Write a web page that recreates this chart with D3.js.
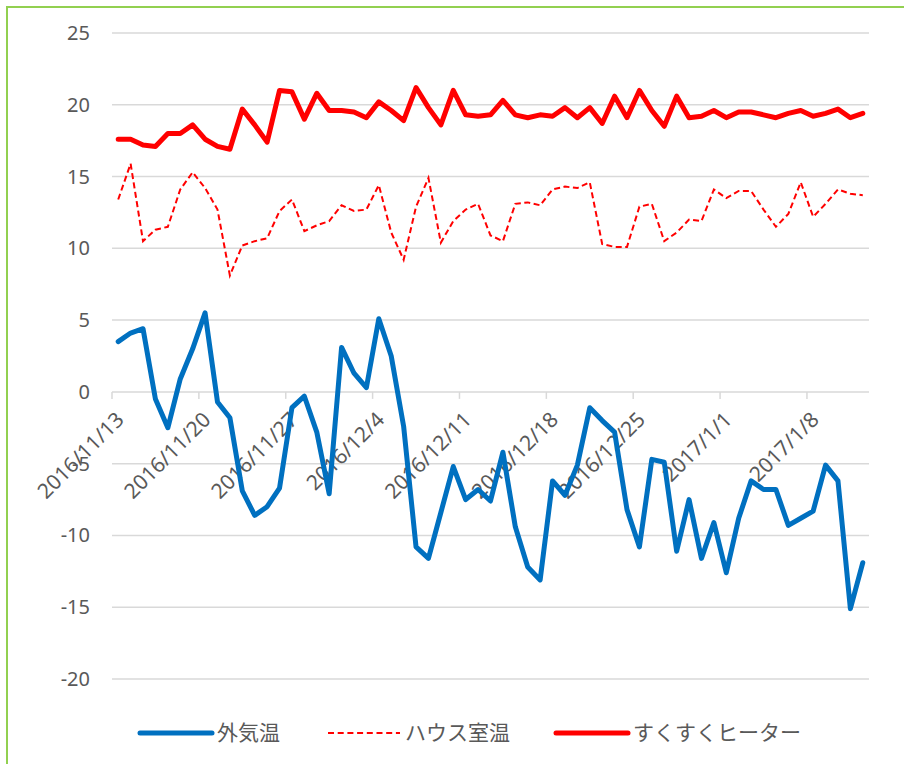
<!DOCTYPE html>
<html>
<head>
<meta charset="utf-8">
<script src="https://cdn.jsdelivr.net/npm/d3@7"></script>
<style>
  body { margin: 0; background: #fff; }
  svg text { font-family: "Noto Sans", "Noto Sans CJK JP", sans-serif; fill: #595959; }
</style>
</head>
<body>
<svg width="904" height="764"></svg>
<script>
// 日付 (2016/11/13 - 2017/1/12)
var startDate = new Date(2016, 10, 13);
var endDate = new Date(2017, 0, 13);
var dates = d3.timeDay.range(startDate, endDate);

var seriesNames = ["外気温", "ハウス室温", "すくすくヒーター"];

var outside = [3.5, 4.1, 4.4, -0.5, -2.5, 0.9, 3.0, 5.5, -0.7, -1.8,
  -6.9, -8.6, -8.0, -6.7, -1.1, -0.3, -2.8, -7.1, 3.1, 1.3,
  0.3, 5.1, 2.5, -2.4, -10.8, -11.6, -8.4, -5.2, -7.5, -6.8,
  -7.6, -4.2, -9.4, -12.2, -13.1, -6.2, -7.2, -5.1, -1.1, -2.0,
  -2.8, -8.2, -10.8, -4.7, -4.9, -11.1, -7.5, -11.6, -9.1, -12.6,
  -8.8, -6.2, -6.8, -6.8, -9.3, -8.8, -8.3, -5.1, -6.2, -15.1, -11.9];

var house = [13.4, 15.9, 10.5, 11.3, 11.5, 14.1, 15.3, 14.2, 12.7, 8.1,
  10.2, 10.5, 10.7, 12.6, 13.4, 11.2, 11.6, 11.9, 13.0, 12.6,
  12.7, 14.4, 11.1, 9.2, 12.9, 14.9, 10.4, 11.9, 12.7, 13.1,
  10.9, 10.5, 13.1, 13.2, 13.0, 14.1, 14.3, 14.2, 14.6, 10.3,
  10.1, 10.1, 12.9, 13.1, 10.5, 11.1, 12.0, 11.9, 14.1, 13.5,
  14.0, 14.0, 12.7, 11.5, 12.4, 14.6, 12.2, 13.1, 14.1, 13.8, 13.7];

var heater = [17.6, 17.6, 17.2, 17.1, 18.0, 18.0, 18.6, 17.6, 17.1, 16.9,
  19.7, 18.6, 17.4, 21.0, 20.9, 19.0, 20.8, 19.6, 19.6, 19.5,
  19.1, 20.2, 19.6, 18.9, 21.2, 19.8, 18.6, 21.0, 19.3, 19.2,
  19.3, 20.3, 19.3, 19.1, 19.3, 19.2, 19.8, 19.1, 19.8, 18.7,
  20.6, 19.1, 21.0, 19.6, 18.5, 20.6, 19.1, 19.2, 19.6, 19.1,
  19.5, 19.5, 19.3, 19.1, 19.4, 19.6, 19.2, 19.4, 19.7, 19.1, 19.4];

var yTicks = [-20, -15, -10, -5, 0, 5, 10, 15, 20, 25];

var svg = d3.select("svg");

// 枠線 (緑)
svg.append("rect")
  .attr("x", 7).attr("y", 7)
  .attr("width", 1000).attr("height", 1000)
  .attr("fill", "none")
  .attr("stroke", "#92d050")
  .attr("stroke-width", 2);

var x = d3.scaleTime().domain([startDate, endDate]).range([112, 869]);
var y = d3.scaleLinear().domain([-20, 25]).range([679, 33]);

// 目盛線
svg.append("g")
  .selectAll("line")
  .data(yTicks)
  .enter().append("line")
  .attr("x1", 112).attr("x2", 869)
  .attr("y1", function(d) { return y(d); })
  .attr("y2", function(d) { return y(d); })
  .attr("stroke", "#d9d9d9")
  .attr("stroke-width", 1.5);

svg.append("g")
  .selectAll("text")
  .data(yTicks)
  .enter().append("text")
  .attr("x", 90)
  .attr("y", function(d) { return y(d); })
  .attr("dy", "0.35em")
  .attr("text-anchor", "end")
  .style("font-size", "20px")
  .text(function(d) { return d; });

// 横軸 (0 の位置)
var weeks = d3.timeWeek.range(startDate, endDate);
var fmt = d3.timeFormat("%Y/%-m/%-d");

svg.append("g")
  .selectAll("line")
  .data(weeks)
  .enter().append("line")
  .attr("x1", function(d) { return x(d); })
  .attr("x2", function(d) { return x(d); })
  .attr("y1", y(0)).attr("y2", y(0) + 7)
  .attr("stroke", "#d9d9d9")
  .attr("stroke-width", 1.5);

svg.append("g")
  .selectAll("text")
  .data(weeks)
  .enter().append("text")
  .attr("transform", function(d) {
    return "translate(" + (x(d) + 8) + "," + (y(0) + 24) + ") rotate(-45)";
  })
  .attr("dy", "0.35em")
  .attr("text-anchor", "end")
  .style("font-size", "21px")
  .text(function(d) { return fmt(d); });

// 折れ線
function midDay(d) { return x(d3.timeHour.offset(d, 12)); }

function makeLine(values) {
  return d3.line()
    .x(function(d, i) { return midDay(dates[i]); })
    .y(function(d) { return y(d); })(values);
}

svg.append("path")
  .attr("d", makeLine(outside))
  .attr("fill", "none")
  .attr("stroke", "#0070c0")
  .attr("stroke-width", 5)
  .attr("stroke-linejoin", "round")
  .attr("stroke-linecap", "round");

svg.append("path")
  .attr("d", makeLine(house))
  .attr("fill", "none")
  .attr("stroke", "#ff0000")
  .attr("stroke-width", 2)
  .attr("stroke-dasharray", "6,3.5");

svg.append("path")
  .attr("d", makeLine(heater))
  .attr("fill", "none")
  .attr("stroke", "#ff0000")
  .attr("stroke-width", 5)
  .attr("stroke-linejoin", "round")
  .attr("stroke-linecap", "round");

// 凡例
var legend = [
  { name: seriesNames[0], color: "#0070c0", width: 5, dash: null, x: 140 },
  { name: seriesNames[1], color: "#ff0000", width: 2, dash: "6,3.7", x: 328 },
  { name: seriesNames[2], color: "#ff0000", width: 5, dash: null, x: 556 }
];

var item = svg.append("g")
  .selectAll("g")
  .data(legend)
  .enter().append("g")
  .attr("transform", function(d) { return "translate(" + d.x + ",733)"; });

item.append("line")
  .attr("x1", 0).attr("x2", 72)
  .attr("stroke", function(d) { return d.color; })
  .attr("stroke-width", function(d) { return d.width; })
  .attr("stroke-dasharray", function(d) { return d.dash; })
  .attr("stroke-linecap", function(d) { return d.dash ? "butt" : "round"; });

item.append("text")
  .attr("x", 77)
  .attr("dy", "0.35em")
  .style("font-family", "'Noto Sans CJK JP', sans-serif")
  .style("font-size", "21px")
  .text(function(d) { return d.name; });
</script>
</body>
</html>
